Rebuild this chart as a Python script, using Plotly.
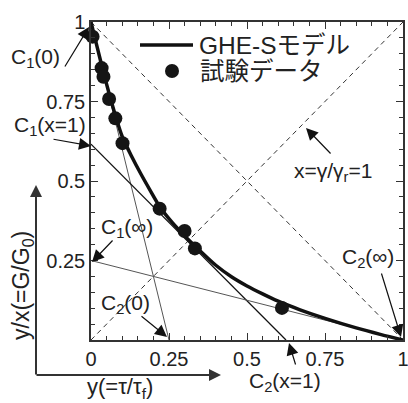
import plotly.graph_objects as go

# GHE-S model curve: y = tau/tau_f versus y/x = G/G0
model_y = [0.0, 0.02, 0.04, 0.06, 0.08, 0.10, 0.13, 0.16, 0.19, 0.22, 0.26, 0.31,
           0.35, 0.40, 0.45, 0.50, 0.55, 0.60, 0.67, 0.75, 0.85, 0.93, 1.0]
model_g = [1.0, 0.92, 0.842, 0.768, 0.70, 0.64, 0.578, 0.522, 0.47, 0.42, 0.37, 0.318,
           0.28, 0.235, 0.199, 0.17, 0.145, 0.122, 0.095, 0.068, 0.038, 0.017, 0.0]

# test results
test_y = [0.005, 0.034, 0.040, 0.058, 0.078, 0.101, 0.220, 0.300, 0.333, 0.612]
test_g = [0.954, 0.855, 0.828, 0.758, 0.697, 0.619, 0.413, 0.343, 0.288, 0.101]

# straight lines from (0, C1) to (C2, 0) for x = 0, x = 1 and x = infinity
c1_vals = [1.0, 0.616, 0.25]
c2_vals = [0.25, 0.625, 1.0]
c_line_colors = ["#555555", "#111111", "#555555"]
c_line_widths = [1.0, 1.3, 1.0]

# reference lines: hyperbolic model (C1 = C2 = 1) and x = gamma/gamma_r = 1
hyper_y = [0.0, 1.0]
hyper_g = [1.0, 0.0]
x1_y = [0.0, 1.0]
x1_g = [0.0, 1.0]

x_tickvals = [0, 0.25, 0.5, 0.75, 1]
x_ticktext = ["0", "0.25", "0.5", "0.75", "1"]
y_tickvals = [0.25, 0.5, 0.75, 1]
y_ticktext = ["0.25", "0.5", "0.75", "1"]

LAT = "Liberation Sans, Arial, Noto Sans CJK JP, sans-serif"
INK = "#222222"
AXC = "#333333"

fig = go.Figure()

fig.add_trace(go.Scatter(x=hyper_y, y=hyper_g, mode="lines",
                         line=dict(color=AXC, width=1, dash="5px,4px"), hoverinfo="skip"))
fig.add_trace(go.Scatter(x=x1_y, y=x1_g, mode="lines",
                         line=dict(color=AXC, width=1, dash="5px,4px"), hoverinfo="skip"))

for c1, c2, col, w in zip(c1_vals, c2_vals, c_line_colors, c_line_widths):
    fig.add_trace(go.Scatter(x=[0, c2], y=[c1, 0], mode="lines",
                             line=dict(color=col, width=w), hoverinfo="skip"))

fig.add_trace(go.Scatter(x=model_y, y=model_g, mode="lines",
                         line=dict(color="#111111", width=3.5, shape="spline", smoothing=0.8),
                         name="GHE-Sモデル"))
fig.add_trace(go.Scatter(x=test_y, y=test_g, mode="markers",
                         marker=dict(color="#151515", size=14), cliponaxis=False,
                         name="試験データ"))

axis_common = dict(range=[0, 1], showline=True, linecolor=AXC, linewidth=1.5, mirror="allticks",
                   ticks="inside", ticklen=7, tickwidth=1.3, tickcolor=AXC,
                   showgrid=False, zeroline=False, fixedrange=True, automargin=False,
                   ticklabeloverflow="allow",
                   tickfont=dict(family=LAT, size=20, color=INK),
                   minor=dict(dtick=0.05, ticks="inside", ticklen=4, tickwidth=1.2, tickcolor=AXC))

fig.update_xaxes(tickmode="array", tickvals=x_tickvals, ticktext=x_ticktext, **axis_common)
fig.update_yaxes(tickmode="array", tickvals=y_tickvals, ticktext=y_ticktext, **axis_common)

annotations = []


def label(px, py, text, size=21):
    # px, py: position in pixels of the page (plot area spans x 91..403, y 22..340)
    annotations.append(dict(x=(px - 91) / 312, y=(340 - py) / 318, xref="paper", yref="paper",
                            text=text, showarrow=False, xanchor="center", yanchor="middle",
                            font=dict(family=LAT, size=size, color=INK)))


def arrow(tip, tail, width=1.2, size=2.0, color="#111111"):
    annotations.append(dict(x=(tip[0] - 91) / 312, y=(340 - tip[1]) / 318, xref="paper", yref="paper",
                            ax=tail[0] - tip[0], ay=tail[1] - tip[1], axref="pixel", ayref="pixel",
                            text="", showarrow=True, arrowhead=2, arrowsize=size,
                            arrowwidth=width, arrowcolor=color, standoff=0))


label(36, 58, "C<sub>1</sub>(0)")
arrow((89, 27), (64, 68))
label(50, 126, "C<sub>1</sub>(x=1)")
arrow((91, 146), (52, 139))
label(127, 228, "C<sub>1</sub>(∞)")
arrow((92, 262), (114, 239))
label(125, 304, "C<sub>2</sub>(0)")
arrow((167, 337), (140, 315))
label(285, 382, "C<sub>2</sub>(x=1)")
arrow((289, 343), (296, 366))
label(368, 258, "C<sub>2</sub>(∞)")
arrow((401, 337), (381, 272))
label(333, 172, "x=γ/γ<sub>r</sub>=1")
arrow((306, 128), (332, 155))

# legend text
annotations.append(dict(x=(197 - 91) / 312, y=(340 - 46) / 318, xref="paper", yref="paper",
                        text="GHE-Sモデル", showarrow=False, xanchor="left", yanchor="middle",
                        font=dict(family=LAT, size=24.5, color=INK)))
annotations.append(dict(x=(198 - 91) / 312, y=(340 - 72) / 318, xref="paper", yref="paper",
                        text="試験データ", showarrow=False, xanchor="left", yanchor="middle",
                        font=dict(family=LAT, size=24.5, color=INK)))

# outer axis arrows with their titles
arrow((36, 185), (36, 376), width=2, size=1.2, color=AXC)
arrow((221, 375), (35, 375), width=2, size=1.2, color=AXC)
annotations.append(dict(x=(22 - 91) / 312, y=(340 - 286) / 318, xref="paper", yref="paper",
                        text="y/x(=G/G<sub>0</sub>)", textangle=-90, showarrow=False,
                        xanchor="center", yanchor="middle",
                        font=dict(family=LAT, size=23, color=INK)))
label(120, 388, "y(=τ/τ<sub>f</sub>)", size=22)

fig.update_layout(annotations=annotations)

# legend symbols
fig.add_shape(type="line", xref="paper", yref="paper",
              x0=(140 - 91) / 312, x1=(193 - 91) / 312, y0=(340 - 45) / 318, y1=(340 - 45) / 318,
              line=dict(color="#111111", width=3.5))
fig.add_shape(type="circle", xref="paper", yref="paper",
              x0=(165 - 91) / 312, x1=(179 - 91) / 312, y0=(340 - 78) / 318, y1=(340 - 64) / 318,
              fillcolor="#151515", line=dict(color="#151515", width=0))

fig.update_layout(width=408, height=403, margin=dict(l=91, r=5, t=22, b=63),
                  plot_bgcolor="white", paper_bgcolor="white", showlegend=False)

fig.write_html("out.html")
